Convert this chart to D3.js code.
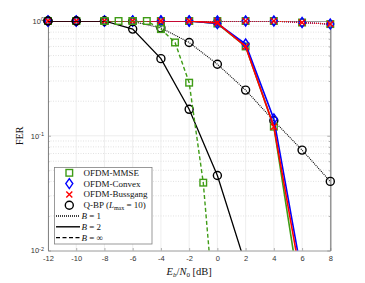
<!DOCTYPE html>
<html>
<head>
<meta charset="utf-8">
<script src="https://cdnjs.cloudflare.com/ajax/libs/d3/7.8.5/d3.min.js"></script>
<style>
  body { margin: 0; background: #fff; }
  .tick text { font-family: "Liberation Sans", Arial, sans-serif; font-size: 7.5px; fill: #333; }
  .lbl { font-family: "Liberation Serif", "Times New Roman", serif; fill: #111; }
</style>
</head>
<body>
<svg id="chart"></svg>
<script>
// values
var xFull = [-12, -10, -8, -6, -4, -2, 0, 2, 4, 6, 8];
var xMmseInf = [-8, -7, -6, -5, -4, -3, -2, -1, 0];
var xTicks = [-12, -10, -8, -6, -4, -2, 0, 2, 4, 6, 8];
var yTicks = [0.01, 0.1, 1];

// B = 1 (dotted)
var mmseB1 = [1, 1, 1, 1, 1, 1, 1, 1, 1, 0.97, 0.94];
var convexB1 = [1, 1, 1, 1, 1, 1, 1, 1, 1, 0.97, 0.94];
var bussB1 = [1, 1, 1, 1, 1, 1, 1, 1, 1, 0.97, 0.94];
var qbpB1 = [1, 1, 1, 0.99, 0.87, 0.65, 0.42, 0.25, 0.135, 0.075, 0.040];
// B = 2 (solid)
var mmseB2 = [1, 1, 1, 1, 1, 1, 0.95, 0.6, 0.12, 0.0032, 0.0001];
var convexB2 = [1, 1, 1, 1, 1, 1, 0.95, 0.63, 0.14, 0.006, 0.0001];
var bussB2 = [1, 1, 1, 1, 1, 1, 0.96, 0.6, 0.12, 0.005, 0.0001];
var qbpB2 = [1, 1, 1, 0.85, 0.47, 0.17, 0.045, 0.0075, 0.0003, 0.0001, 0.0001];
// B = infinity (dashed)
var mmseInf = [1, 1, 1, 1, 0.85, 0.65, 0.29, 0.039, 0.0014];

var legendNames = ["OFDM-MMSE", "OFDM-Convex", "OFDM-Bussgang"];

var margin = {top: 21, right: 35, bottom: 32, left: 48},
    width = 365,
    height = 283;

var x = d3.scaleLinear().domain([-12, 8]).range([margin.left, width - margin.right + 0.3]),
    y = d3.scaleLog().domain([0.01, 1]).range([height - margin.bottom - 0.5, margin.top]);

var green = "#3f9c16", blue = "#0000ff", red = "#ff0000", black = "#000";
var axisCol = "#808080";

var svg = d3.select("#chart").attr("width", width).attr("height", height);

var x0 = x(-12), x1 = x(8), y0 = y(0.01), y1 = y(1);

// grid
var minor = [];
[0.01, 0.1].forEach(function(d) { for (var k = 2; k <= 9; k++) minor.push(d * k); });
svg.append("g").selectAll("line").data(minor).enter().append("line")
  .attr("x1", x0).attr("x2", x1)
  .attr("y1", function(d) { return y(d); }).attr("y2", function(d) { return y(d); })
  .attr("stroke", "#cfcfcf").attr("stroke-width", 0.6).attr("stroke-dasharray", "1,1.5");
svg.append("g").selectAll("line").data([0.1]).enter().append("line")
  .attr("x1", x0).attr("x2", x1)
  .attr("y1", function(d) { return y(d); }).attr("y2", function(d) { return y(d); })
  .attr("stroke", "#e6e6e6").attr("stroke-width", 0.7);
svg.append("g").selectAll("line").data(xTicks).enter().append("line")
  .attr("x1", function(d) { return x(d); }).attr("x2", function(d) { return x(d); })
  .attr("y1", y0).attr("y2", y1)
  .attr("stroke", "#e6e6e6").attr("stroke-width", 0.7);

// axes
var xAxis = svg.append("g")
  .attr("transform", "translate(0," + y0 + ")")
  .call(d3.axisBottom(x).tickValues(xTicks).tickSizeInner(-2.5).tickSizeOuter(0).tickPadding(5)
    .tickFormat(function(d) { return String(d); }));
var xTop = svg.append("g")
  .attr("transform", "translate(0," + y1 + ")")
  .call(d3.axisTop(x).tickValues(xTicks).tickSizeInner(-2.5).tickSizeOuter(0).tickFormat(""));
var yAxis = svg.append("g")
  .attr("transform", "translate(" + x0 + ",0)")
  .call(d3.axisLeft(y).tickValues(yTicks).tickSizeInner(-3).tickSizeOuter(0).tickPadding(4)
    .tickFormat(function() { return ""; }));
var yRight = svg.append("g")
  .attr("transform", "translate(" + x1 + ",0)")
  .call(d3.axisRight(y).tickValues(yTicks).tickSizeInner(-3).tickSizeOuter(0).tickFormat(""));
var yMinL = svg.append("g")
  .attr("transform", "translate(" + x0 + ",0)")
  .call(d3.axisLeft(y).tickValues(minor).tickSizeInner(-1.5).tickSizeOuter(0).tickFormat(""));
var yMinR = svg.append("g")
  .attr("transform", "translate(" + x1 + ",0)")
  .call(d3.axisRight(y).tickValues(minor).tickSizeInner(-1.5).tickSizeOuter(0).tickFormat(""));
[xAxis, xTop, yAxis, yRight, yMinL, yMinR].forEach(function(g) {
  g.selectAll(".domain").attr("stroke", axisCol).attr("stroke-width", 0.8);
  g.selectAll(".tick line").attr("stroke", axisCol).attr("stroke-width", 0.6);
});

// y tick labels 10^k
yAxis.selectAll(".tick text").each(function(d) {
  var t = d3.select(this).attr("dy", "0.3em");
  t.append("tspan").text("10");
  t.append("tspan").attr("dy", "-0.5em").attr("font-size", "5.5px").text(Math.round(Math.log10(d)));
});

// axis titles
var xt = svg.append("text").attr("class", "lbl")
  .attr("x", (x0 + x1) / 2).attr("y", 275).attr("text-anchor", "middle").style("font-size", "10.5px");
xt.append("tspan").attr("font-style", "italic").text("E");
xt.append("tspan").attr("font-size", "7px").attr("font-style", "italic").attr("dy", "2").text("b");
xt.append("tspan").attr("dy", "-2").text("/");
xt.append("tspan").attr("font-style", "italic").text("N");
xt.append("tspan").attr("font-size", "7px").attr("dy", "2").text("0");
xt.append("tspan").attr("dy", "-2").text(" [dB]");

svg.append("text").attr("class", "lbl")
  .attr("transform", "translate(23," + ((y0 + y1) / 2) + ") rotate(-90)")
  .attr("text-anchor", "middle").style("font-size", "10px").text("FER");

// clip
svg.append("clipPath").attr("id", "clip").append("rect")
  .attr("x", x0).attr("y", y1).attr("width", x1 - x0).attr("height", y0 - y1);

var line = d3.line()
  .x(function(d) { return x(d[0]); })
  .y(function(d) { return y(Math.max(d[1], 1e-6)); });

var plot = svg.append("g");

function marker(g, kind, color, cx, cy) {
  if (kind === "square") {
    g.append("rect").attr("x", cx - 3.3).attr("y", cy - 3.3).attr("width", 6.6).attr("height", 6.6)
      .attr("fill", "none").attr("stroke", color).attr("stroke-width", 1.4);
  } else if (kind === "diamond") {
    g.append("path").attr("d", "M" + cx + "," + (cy - 5) + "L" + (cx + 3.5) + "," + cy + "L" + cx + "," + (cy + 5) + "L" + (cx - 3.5) + "," + cy + "Z")
      .attr("fill", "none").attr("stroke", color).attr("stroke-width", 1.4);
  } else if (kind === "x") {
    g.append("path").attr("d", "M" + (cx - 3) + "," + (cy - 3) + "L" + (cx + 3) + "," + (cy + 3) + "M" + (cx - 3) + "," + (cy + 3) + "L" + (cx + 3) + "," + (cy - 3))
      .attr("stroke", color).attr("stroke-width", 1.4);
  } else {
    g.append("circle").attr("cx", cx).attr("cy", cy).attr("r", 4)
      .attr("fill", "none").attr("stroke", color).attr("stroke-width", 1.4);
  }
}

function curve(xs, ys, color, dash, kind, lw) {
  var pts = xs.map(function(d, i) { return [d, ys[i]]; });
  var g = plot.append("g");
  g.append("path").datum(pts).attr("d", line).attr("clip-path", "url(#clip)")
    .attr("fill", "none").attr("stroke", color).attr("stroke-width", lw)
    .attr("stroke-dasharray", dash);
  pts.filter(function(p) { return p[1] >= 0.01; }).forEach(function(p) {
    marker(g, kind, color, x(p[0]), y(p[1]));
  });
}

curve(xFull, mmseB1, green, "1,1", "square", 1.3);
curve(xFull, convexB1, blue, "1,1", "diamond", 1.3);
curve(xFull, bussB1, red, "1,1", "x", 1.3);
curve(xFull, qbpB1, black, "1,1", "circle", 1.1);
curve(xFull, mmseB2, green, null, "square", 1.6);
curve(xFull, convexB2, blue, null, "diamond", 1.6);
curve(xFull, bussB2, red, null, "x", 1.6);
curve(xFull, qbpB2, black, null, "circle", 1.3);
curve(xMmseInf, mmseInf, green, "4,2.5", "square", 1.4);

// legend
var lg = svg.append("g");
lg.append("rect").attr("x", 54.5).attr("y", 167.5).attr("width", 97.5).attr("height", 76.5)
  .attr("fill", "#fff").attr("stroke", axisCol).attr("stroke-width", 0.8);
var rowY = d3.range(7).map(function(i) { return 172.8 + i * 10.8; });
var kinds = ["square", "diamond", "x", "circle"];
var colors = [green, blue, red, black];
kinds.forEach(function(k, i) { marker(lg, k, colors[i], 69.3, rowY[i]); });
legendNames.forEach(function(n, i) {
  lg.append("text").attr("class", "lbl").attr("x", 83.5).attr("y", rowY[i]).attr("dy", "0.33em")
    .style("font-size", "9px").text(n);
});
var qt = lg.append("text").attr("class", "lbl").attr("x", 83.5).attr("y", rowY[3]).attr("dy", "0.33em")
  .style("font-size", "9px");
qt.append("tspan").text("Q-BP (");
qt.append("tspan").attr("font-style", "italic").text("L");
qt.append("tspan").attr("font-size", "6px").attr("dy", "1.5").text("max");
qt.append("tspan").attr("dy", "-1.5").text(" = 10)");

var dashes = ["1,1", null, "4,2.5"];
var bLabels = ["1", "2", "\u221E"];
dashes.forEach(function(d, i) {
  var yy = rowY[4 + i];
  lg.append("line").attr("x1", 56).attr("x2", 80).attr("y1", yy).attr("y2", yy)
    .attr("stroke", black).attr("stroke-width", 1.4).attr("stroke-dasharray", d);
  var t = lg.append("text").attr("class", "lbl").attr("x", 81.5).attr("y", yy).attr("dy", "0.33em")
    .style("font-size", "9px");
  t.append("tspan").attr("font-style", "italic").text("B");
  t.append("tspan").text(" = " + bLabels[i]);
});
</script>
</body>
</html>
